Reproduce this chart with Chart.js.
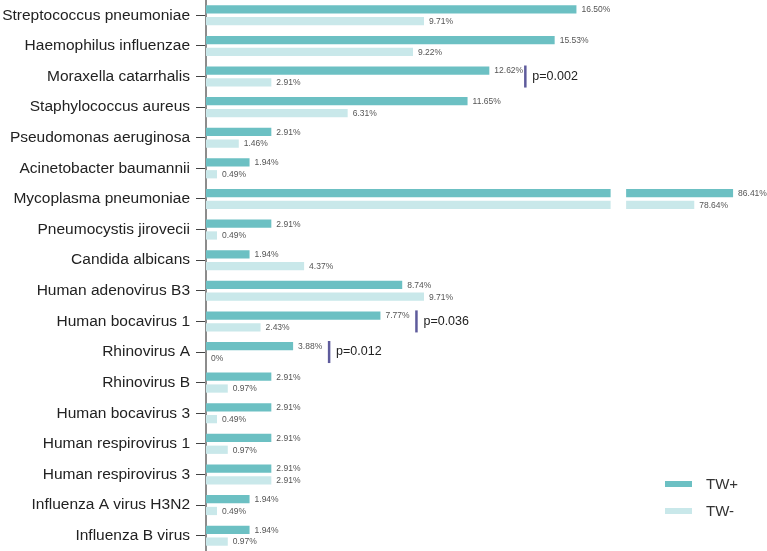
<!DOCTYPE html>
<html>
<head>
<meta charset="utf-8">
<script src="https://cdn.jsdelivr.net/npm/chart.js@4/dist/chart.umd.min.js"></script>
<style>
  html, body { margin: 0; padding: 0; background: #fff; }
  #wrap { width: 767px; height: 551px; }
</style>
</head>
<body>
<div id="wrap"><canvas id="chart" width="767" height="551"></canvas></div>
<script>
const categories = [
  "Streptococcus pneumoniae", "Haemophilus influenzae", "Moraxella catarrhalis",
  "Staphylococcus aureus", "Pseudomonas aeruginosa", "Acinetobacter baumannii",
  "Mycoplasma pneumoniae", "Pneumocystis jirovecii", "Candida albicans",
  "Human adenovirus B3", "Human bocavirus 1", "Rhinovirus A", "Rhinovirus B",
  "Human bocavirus 3", "Human respirovirus 1", "Human respirovirus 3",
  "Influenza A virus H3N2", "Influenza B virus"
];
const twPlus  = [16.50, 15.53, 12.62, 11.65, 2.91, 1.94, 86.41, 2.91, 1.94, 8.74, 7.77, 3.88, 2.91, 2.91, 2.91, 2.91, 1.94, 1.94];
const twMinus = [9.71, 9.22, 2.91, 6.31, 1.46, 0.49, 78.64, 0.49, 4.37, 9.71, 2.43, 0, 0.97, 0.49, 0.97, 2.91, 0.49, 0.97];

// significance marks
const pCategories = ["Moraxella catarrhalis", "Human bocavirus 1", "Rhinovirus A"];
const pLabels = ["p=0.002", "p=0.036", "p=0.012"];

// broken value axis: 0..18 then 65..max
const BREAK_FROM = 18;
const BREAK_TO = 65;
const X_MAX = 93.2;
const LOW_SHARE = 0.7415; // part of plot width used by low segment
const GAP = 16;

const FONT = "'Liberation Sans', Arial, sans-serif";
const TEAL = "#6cc0c3";
const LIGHT = "#c9e8ea";

class BrokenScale extends Chart.LinearScale {
  getPixelForValue(value) {
    const w = this.right - this.left;
    const w1 = (w - GAP) * LOW_SHARE;
    const w2 = w - GAP - w1;
    if (value <= BREAK_FROM) {
      return this.left + (value - this.min) / (BREAK_FROM - this.min) * w1;
    }
    if (value < BREAK_TO) return this.left + w1;
    return this.left + w1 + GAP + (value - BREAK_TO) / (this.max - BREAK_TO) * w2;
  }
}
BrokenScale.id = "broken";
BrokenScale.defaults = {};
Chart.register(BrokenScale);

const fmt = (v) => v === 0 ? "0%" : v.toFixed(2) + "%";

const extras = {
  id: "extras",
  afterDatasetsDraw(chart) {
    const ctx = chart.ctx;
    const x = chart.scales.x;
    const area = chart.chartArea;

    // white gap for the axis break
    ctx.save();
    ctx.fillStyle = "#fff";
    const g1 = x.getPixelForValue(BREAK_FROM);
    const g2 = x.getPixelForValue(BREAK_TO);
    ctx.fillRect(g1 + 0.5, area.top, g2 - g1 - 0.5, area.bottom - area.top);

    // value labels
    ctx.font = "8.5px " + FONT;
    ctx.fillStyle = "#555";
    ctx.textAlign = "left";
    ctx.textBaseline = "middle";
    chart.data.datasets.forEach((ds, di) => {
      chart.getDatasetMeta(di).data.forEach((bar, i) => {
        ctx.fillText(fmt(ds.data[i]), bar.x + 5, bar.y + 0.5);
      });
    });

    // p-value brackets
    const metaPlus = chart.getDatasetMeta(0);
    const metaMinus = chart.getDatasetMeta(1);
    pCategories.forEach((name, k) => {
      const i = categories.indexOf(name);
      const bp = metaPlus.data[i];
      const bm = metaMinus.data[i];
      const lx = bp.x + 36;
      const y1 = bp.y - bp.height / 2 - 1;
      const y2 = bm.y + bm.height / 2 + 1;
      ctx.strokeStyle = "#5e5b9c";
      ctx.lineWidth = 2.5;
      ctx.beginPath();
      ctx.moveTo(lx, y1);
      ctx.lineTo(lx, y2);
      ctx.stroke();
      ctx.fillStyle = "#222";
      ctx.font = "12.5px " + FONT;
      ctx.fillText(pLabels[k], lx + 7, (y1 + y2) / 2);
    });

    // legend
    ctx.font = "15px " + FONT;
    ctx.fillStyle = TEAL;
    ctx.fillRect(665, 481, 27, 6);
    ctx.fillStyle = LIGHT;
    ctx.fillRect(665, 508, 27, 6);
    ctx.fillStyle = "#333";
    ctx.fillText("TW+", 706, 484.5);
    ctx.fillText("TW-", 706, 511.5);
    ctx.restore();
  }
};

new Chart(document.getElementById("chart"), {
  type: "bar",
  data: {
    labels: categories,
    datasets: [
      { label: "TW+", data: twPlus, backgroundColor: TEAL },
      { label: "TW-", data: twMinus, backgroundColor: LIGHT }
    ]
  },
  options: {
    indexAxis: "y",
    responsive: false,
    animation: false,
    layout: { padding: 0 },
    datasets: { bar: { categoryPercentage: 0.77, barPercentage: 0.7 } },
    plugins: { legend: { display: false }, tooltip: { enabled: false } },
    scales: {
      x: { type: "broken", min: 0, max: X_MAX, display: false },
      y: {
        grid: { drawOnChartArea: false, drawTicks: true, tickLength: 10, offset: false, color: "#444", lineWidth: 1 },
        border: { display: true, color: "#8c8c8c", width: 2 },
        ticks: { padding: 6, autoSkip: false, color: "#222", font: { family: FONT, size: 15.5 } },
        afterFit(scale) {
          scale.width = 206;
          scale.paddingTop = 0;
          scale.paddingBottom = 0;
        }
      }
    }
  },
  plugins: [extras]
});
</script>
</body>
</html>
